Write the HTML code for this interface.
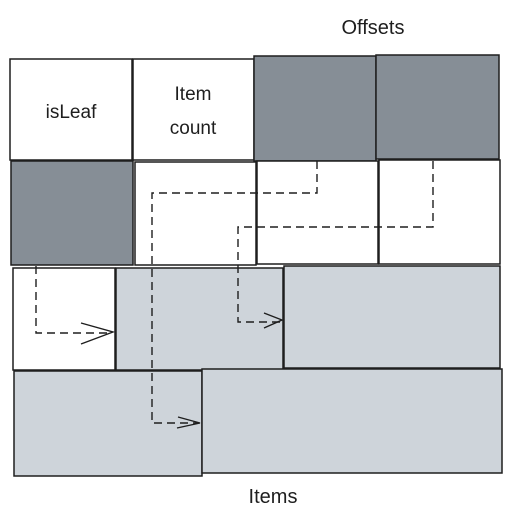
<!DOCTYPE html>
<html><head><meta charset="utf-8"><style>
body{margin:0;background:#fff;width:513px;height:523px;overflow:hidden}
svg{display:block}
text{font-family:"Liberation Sans",sans-serif;fill:#1e1e1e}
</style></head><body>
<svg width="513" height="523" viewBox="0 0 513 523">
<g stroke="#1e1e1e" stroke-width="1.5">
<rect x="10" y="59" width="122" height="101" fill="#fff"/>
<rect x="133" y="59" width="121" height="101" fill="#fff"/>
<rect x="254" y="56" width="122" height="105" fill="#868e96"/>
<rect x="376" y="55" width="123" height="104" fill="#868e96"/>
<rect x="11" y="161" width="122" height="104" fill="#868e96"/>
<rect x="135" y="162" width="121" height="103" fill="#fff"/>
<rect x="257" y="161" width="121" height="103" fill="#fff"/>
<rect x="379" y="160" width="121" height="104" fill="#fff"/>
<rect x="13" y="268" width="102" height="102" fill="#fff"/>
<rect x="116" y="268" width="167" height="102" fill="#ced4da"/>
<rect x="284" y="266" width="216" height="102" fill="#ced4da"/>
<rect x="14" y="371" width="188" height="105" fill="#ced4da"/>
<rect x="202" y="369" width="300" height="104" fill="#ced4da"/>
</g>
<g fill="none" stroke="#1e1e1e" stroke-width="1.4" stroke-dasharray="8 5">
<path d="M317 161 V193 H152 V423 H198"/>
<path d="M433 161 V227 H238 V322 H280"/>
<path d="M36 266 V333 H111"/>
</g>
<g fill="none" stroke="#1e1e1e" stroke-width="1.4">
<path d="M178 417 L200 423 L177 428"/>
<path d="M264 313 L282 320 L264 328"/>
<path d="M81 323 L113 332 L81 344"/>
</g>
<text x="71" y="118" font-size="19" text-anchor="middle">isLeaf</text>
<text x="193" y="100" font-size="19" text-anchor="middle">Item</text>
<text x="193" y="134" font-size="19" text-anchor="middle">count</text>
<text x="373" y="34" font-size="20" text-anchor="middle">Offsets</text>
<text x="273" y="503" font-size="20" text-anchor="middle">Items</text>
</svg>
</body></html>
